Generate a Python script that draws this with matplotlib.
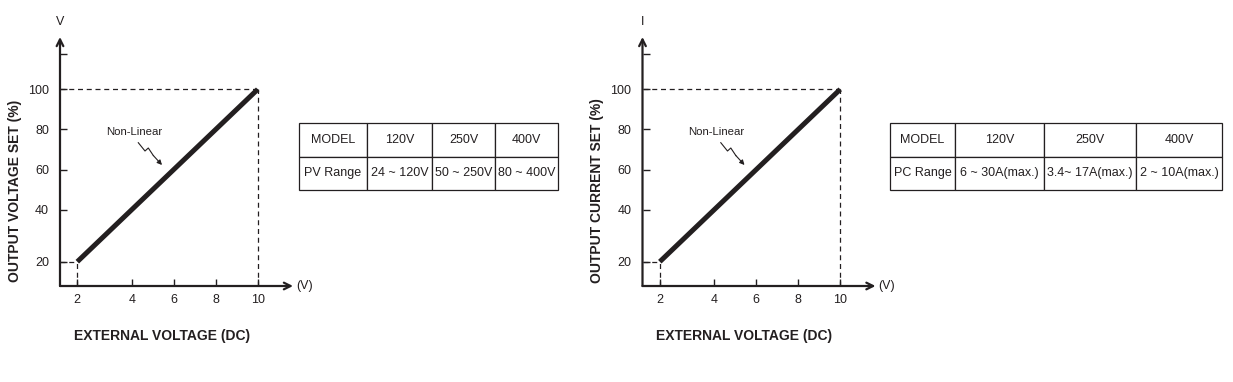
import numpy as np
import matplotlib
matplotlib.use('Agg')
import matplotlib.pyplot as plt

plt.rcParams['font.family'] = ['Liberation Sans', 'DejaVu Sans']

# data
ext_v = [2, 4, 6, 8, 10]
out_pct = [20, 40, 60, 80, 100]
x_ticks = [2, 4, 6, 8, 10]
y_ticks = [20, 40, 60, 80, 100, 120]
y_ticklabels = ['20', '40', '60', '80', '100', '']

col_labels = ['MODEL', '120V', '250V', '400V']
pv_row = ['PV Range', '24 ~ 120V', '50 ~ 250V', '80 ~ 400V']
pc_row = ['PC Range', '6 ~ 30A(max.)', '3.4~ 17A(max.)', '2 ~ 10A(max.)']

W, H = 1233, 382
INK = '#231f20'

fig = plt.figure(figsize=(W / 100, H / 100), dpi=100)

# the printed scale is not even: 2..4 is drawn wider than 4..10
xk_val = [0, 2, 4, 12]
xk_pos = [0, 17.3, 71.7, 239.7]
yk_val = [0, 20, 40, 100, 120, 140]
yk_pos = [0, 24.3, 76.3, 196.7, 231.7, 266.7]


def fx(v):
    return np.interp(v, xk_val, xk_pos)


def ifx(p):
    return np.interp(p, xk_pos, xk_val)


def fy(v):
    return np.interp(v, yk_val, yk_pos)


def ify(p):
    return np.interp(p, yk_pos, yk_val)


def fig_xy(px, py):
    return px / W, 1 - py / H


def make_panel(x0, ylab, top_lab, table_row, tab_box, col_w):
    # x0 = pixel x of the axis origin
    ax = fig.add_axes([x0 / W, (H - 286) / H, 233 / W, 249 / H])
    ax.set_xscale('function', functions=(fx, ifx))
    ax.set_yscale('function', functions=(fy, ify))
    ax.set_xlim(0, 11.68)
    ax.set_ylim(0, 129.9)
    for s in ax.spines.values():
        s.set_visible(False)
    ax.patch.set_alpha(0)

    # axes with open arrow heads
    ax.annotate('', xy=(0, 1.0), xytext=(0, 0), xycoords='axes fraction',
                arrowprops=dict(arrowstyle='->', lw=1.6, color=INK,
                                shrinkA=0, shrinkB=0, mutation_scale=12))
    ax.annotate('', xy=(1.0, 0), xytext=(0, 0), xycoords='axes fraction',
                arrowprops=dict(arrowstyle='->', lw=1.6, color=INK,
                                shrinkA=0, shrinkB=0, mutation_scale=12))

    ax.set_xticks(x_ticks)
    ax.set_xticklabels([str(v) for v in x_ticks])
    ax.set_yticks(y_ticks)
    ax.set_yticklabels(y_ticklabels)
    ax.tick_params(direction='in', length=5, width=1, color=INK,
                   labelsize=9, labelcolor=INK)
    ax.tick_params(axis='x', pad=6)
    ax.tick_params(axis='y', pad=8)
    ax.minorticks_off()

    # dashed guides
    dash = dict(color=INK, lw=0.9, ls=(0, (4, 3)))
    ax.plot([0, ext_v[0]], [out_pct[0], out_pct[0]], **dash)
    ax.plot([ext_v[0], ext_v[0]], [0, out_pct[0]], **dash)
    ax.plot([0, ext_v[-1]], [out_pct[-1], out_pct[-1]], **dash)
    ax.plot([ext_v[-1], ext_v[-1]], [0, out_pct[-1]], **dash)

    ax.plot(ext_v, out_pct, color=INK, lw=3.6, solid_capstyle='butt')

    dx = x0 - 60
    fig.text(*fig_xy(60 + dx, 22), top_lab, ha='center', va='center',
             fontsize=9, color=INK)
    fig.text(*fig_xy(296 + dx, 286), '(V)', ha='left', va='center',
             fontsize=9, color=INK)
    fig.text(*fig_xy(15 + dx, 191), ylab, ha='center', va='center',
             rotation=90, fontsize=10, fontweight='bold', color=INK)
    fig.text(*fig_xy(162 + dx, 336), 'EXTERNAL VOLTAGE (DC)', ha='center',
             va='center', fontsize=10, fontweight='bold', color=INK)

    fig.text(*fig_xy(134 + dx, 132), 'Non-Linear', ha='center', va='center',
             fontsize=8.2, color=INK)
    zz = [(138.3, 142.7), (145, 151), (148.3, 148), (153.3, 155.5)]
    zx = [fig_xy(p[0] + dx, p[1])[0] for p in zz]
    zy = [fig_xy(p[0] + dx, p[1])[1] for p in zz]
    fig.add_artist(plt.Line2D(zx, zy, color=INK, lw=0.8,
                              transform=fig.transFigure))
    fig.add_artist(matplotlib.patches.FancyArrowPatch(
        (zx[-1], zy[-1]), fig_xy(162 + dx, 165), transform=fig.transFigure,
        arrowstyle='-|>', mutation_scale=7, lw=0.8, color=INK,
        shrinkA=0, shrinkB=0))

    # table
    l, t, r, b = tab_box
    tax = fig.add_axes([l / W, (H - b) / H, (r - l) / W, (b - t) / H])
    tax.axis('off')
    tot = sum(col_w)
    tb = tax.table(cellText=[col_labels, table_row], cellLoc='center',
                   colWidths=[c / tot for c in col_w], bbox=[0, 0, 1, 1])
    tb.auto_set_font_size(False)
    tb.set_fontsize(9)
    for cell in tb.get_celld().values():
        cell.set_linewidth(0.9)
        cell.set_edgecolor(INK)
        cell.get_text().set_color(INK)
        cell.PAD = 0.02
    return ax


make_panel(60, 'OUTPUT VOLTAGE SET (%)', 'V', pv_row,
           (299, 123, 558, 190), [68, 65, 63, 63])
make_panel(642.5, 'OUTPUT CURRENT SET (%)', 'I', pc_row,
           (890, 123, 1222, 190), [65, 89, 92, 86])

fig.savefig('out.png', dpi=100, facecolor='white')
